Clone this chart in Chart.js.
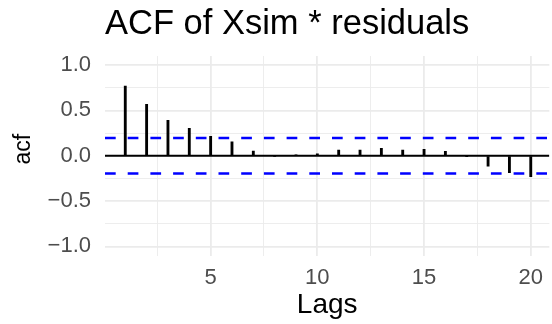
<!DOCTYPE html>
<html>
<head>
<meta charset="utf-8">
<script src="https://cdn.jsdelivr.net/npm/chart.js@4/dist/chart.umd.min.js"></script>
<style>
  html, body { margin: 0; padding: 0; background: #ffffff; }
  #wrap { width: 552px; height: 324px; }
</style>
</head>
<body>
<div id="wrap"><canvas id="c" width="552" height="324"></canvas></div>
<script>
// ---- data ----
const titleText = "ACF of Xsim * residuals";
const yTitleText = "acf";
const lags = [1, 2, 3, 4, 5, 6, 7, 8, 9, 10, 11, 12, 13, 14, 15, 16, 17, 18, 19, 20];
const acfValues = [0.768, 0.567, 0.390, 0.302, 0.214, 0.154, 0.052, -0.010, 0.004, 0.020,
                   0.063, 0.063, 0.081, 0.063, 0.070, 0.048, -0.004, -0.114, -0.187, -0.231];
const ciBound = 0.196;
const xTicks = [2.5, 5, 7.5, 10, 12.5, 15, 17.5, 20];
const xLabelTicks = [5, 10, 15, 20];
const yTicks = [-1, -0.75, -0.5, -0.25, 0, 0.25, 0.5, 0.75, 1];
const yLabelTicks = [-1, -0.5, 0, 0.5, 1];

// axis limits
const X_MIN = 0.05, X_MAX = 20.87;
const Y_MIN = -1.1, Y_MAX = 1.1;

const FONT = "'Liberation Sans', Arial, Helvetica, sans-serif";
const fmtY = v => (v < 0 ? "\u2212" : "") + Math.abs(v).toFixed(1);
const near = (a, b) => Math.abs(a - b) < 1e-9;

const textPlugin = {
  id: 'ggTexts',
  afterDraw(chart) {
    const ctx = chart.ctx;
    const a = chart.chartArea;
    ctx.save();
    ctx.font = "34.5px " + FONT;
    ctx.fillStyle = "#000000";
    ctx.textAlign = "left";
    ctx.textBaseline = "alphabetic";
    ctx.fillText(titleText, a.left, 34.3);
    ctx.restore();

    ctx.save();
    ctx.translate(30, (a.top + a.bottom) / 2 - 6.5);
    ctx.rotate(-Math.PI / 2);
    ctx.font = "23px " + FONT;
    ctx.fillStyle = "#000000";
    ctx.textAlign = "center";
    ctx.textBaseline = "alphabetic";
    ctx.fillText(yTitleText, 0, 0);
    ctx.restore();
  }
};

new Chart(document.getElementById('c'), {
  type: 'bar',
  data: {
    datasets: [
      {
        type: 'line', label: 'upper', order: 0,
        data: [{x: X_MIN, y: ciBound}, {x: X_MAX, y: ciBound}],
        borderColor: '#0000FF', borderWidth: 2.6, borderDash: [10.7, 12],
        pointRadius: 0, fill: false
      },
      {
        type: 'line', label: 'lower', order: 0,
        data: [{x: X_MIN, y: -ciBound}, {x: X_MAX, y: -ciBound}],
        borderColor: '#0000FF', borderWidth: 2.6, borderDash: [10.7, 12],
        pointRadius: 0, fill: false
      },
      {
        type: 'bar', label: 'acf', order: 1,
        data: lags.map((l, i) => ({x: l, y: acfValues[i]})),
        backgroundColor: '#000000', borderWidth: 0,
        barThickness: 2.2
      },
      {
        type: 'line', label: 'zero', order: 2,
        data: [{x: X_MIN, y: 0}, {x: X_MAX, y: 0}],
        borderColor: '#000000', borderWidth: 2,
        pointRadius: 0, fill: false
      }
    ]
  },
  options: {
    responsive: false,
    animation: false,
    devicePixelRatio: 1,
    layout: { padding: { top: 56, right: 0, bottom: 0, left: 0 } },
    plugins: { legend: { display: false }, tooltip: { enabled: false }, title: { display: false } },
    scales: {
      x: {
        type: 'linear', min: X_MIN, max: X_MAX, offset: false,
        afterBuildTicks: s => { s.ticks = xTicks.map(v => ({value: v})); },
        afterFit: s => { s.height = 68.5; },
        border: { display: false },
        grid: {
          color: '#EBEBEB', drawTicks: false, offset: false,
          lineWidth: c => (xLabelTicks.some(t => near(t, c.tick.value)) ? 1.8 : 0.9)
        },
        ticks: {
          autoSkip: false, maxRotation: 0, padding: 9,
          color: '#4D4D4D', font: { family: FONT, size: 22 },
          callback: v => (xLabelTicks.some(t => near(t, v)) ? String(v) : '')
        },
        title: {
          display: true, text: 'Lags', color: '#000000',
          font: { family: FONT, size: 28 }, padding: { top: 0, bottom: 2 }
        }
      },
      y: {
        type: 'linear', min: Y_MIN, max: Y_MAX,
        afterBuildTicks: s => { s.ticks = yTicks.map(v => ({value: v})); },
        afterFit: s => { s.width = 105; },
        border: { display: false },
        grid: {
          color: '#EBEBEB', drawTicks: false,
          lineWidth: c => (yLabelTicks.some(t => near(t, c.tick.value)) ? 1.8 : 0.9)
        },
        ticks: {
          autoSkip: false, padding: 14,
          color: '#4D4D4D', font: { family: FONT, size: 22 },
          callback: v => (yLabelTicks.some(t => near(t, v)) ? fmtY(v) : '')
        },
        title: { display: false }
      }
    }
  },
  plugins: [textPlugin]
});
</script>
</body>
</html>
